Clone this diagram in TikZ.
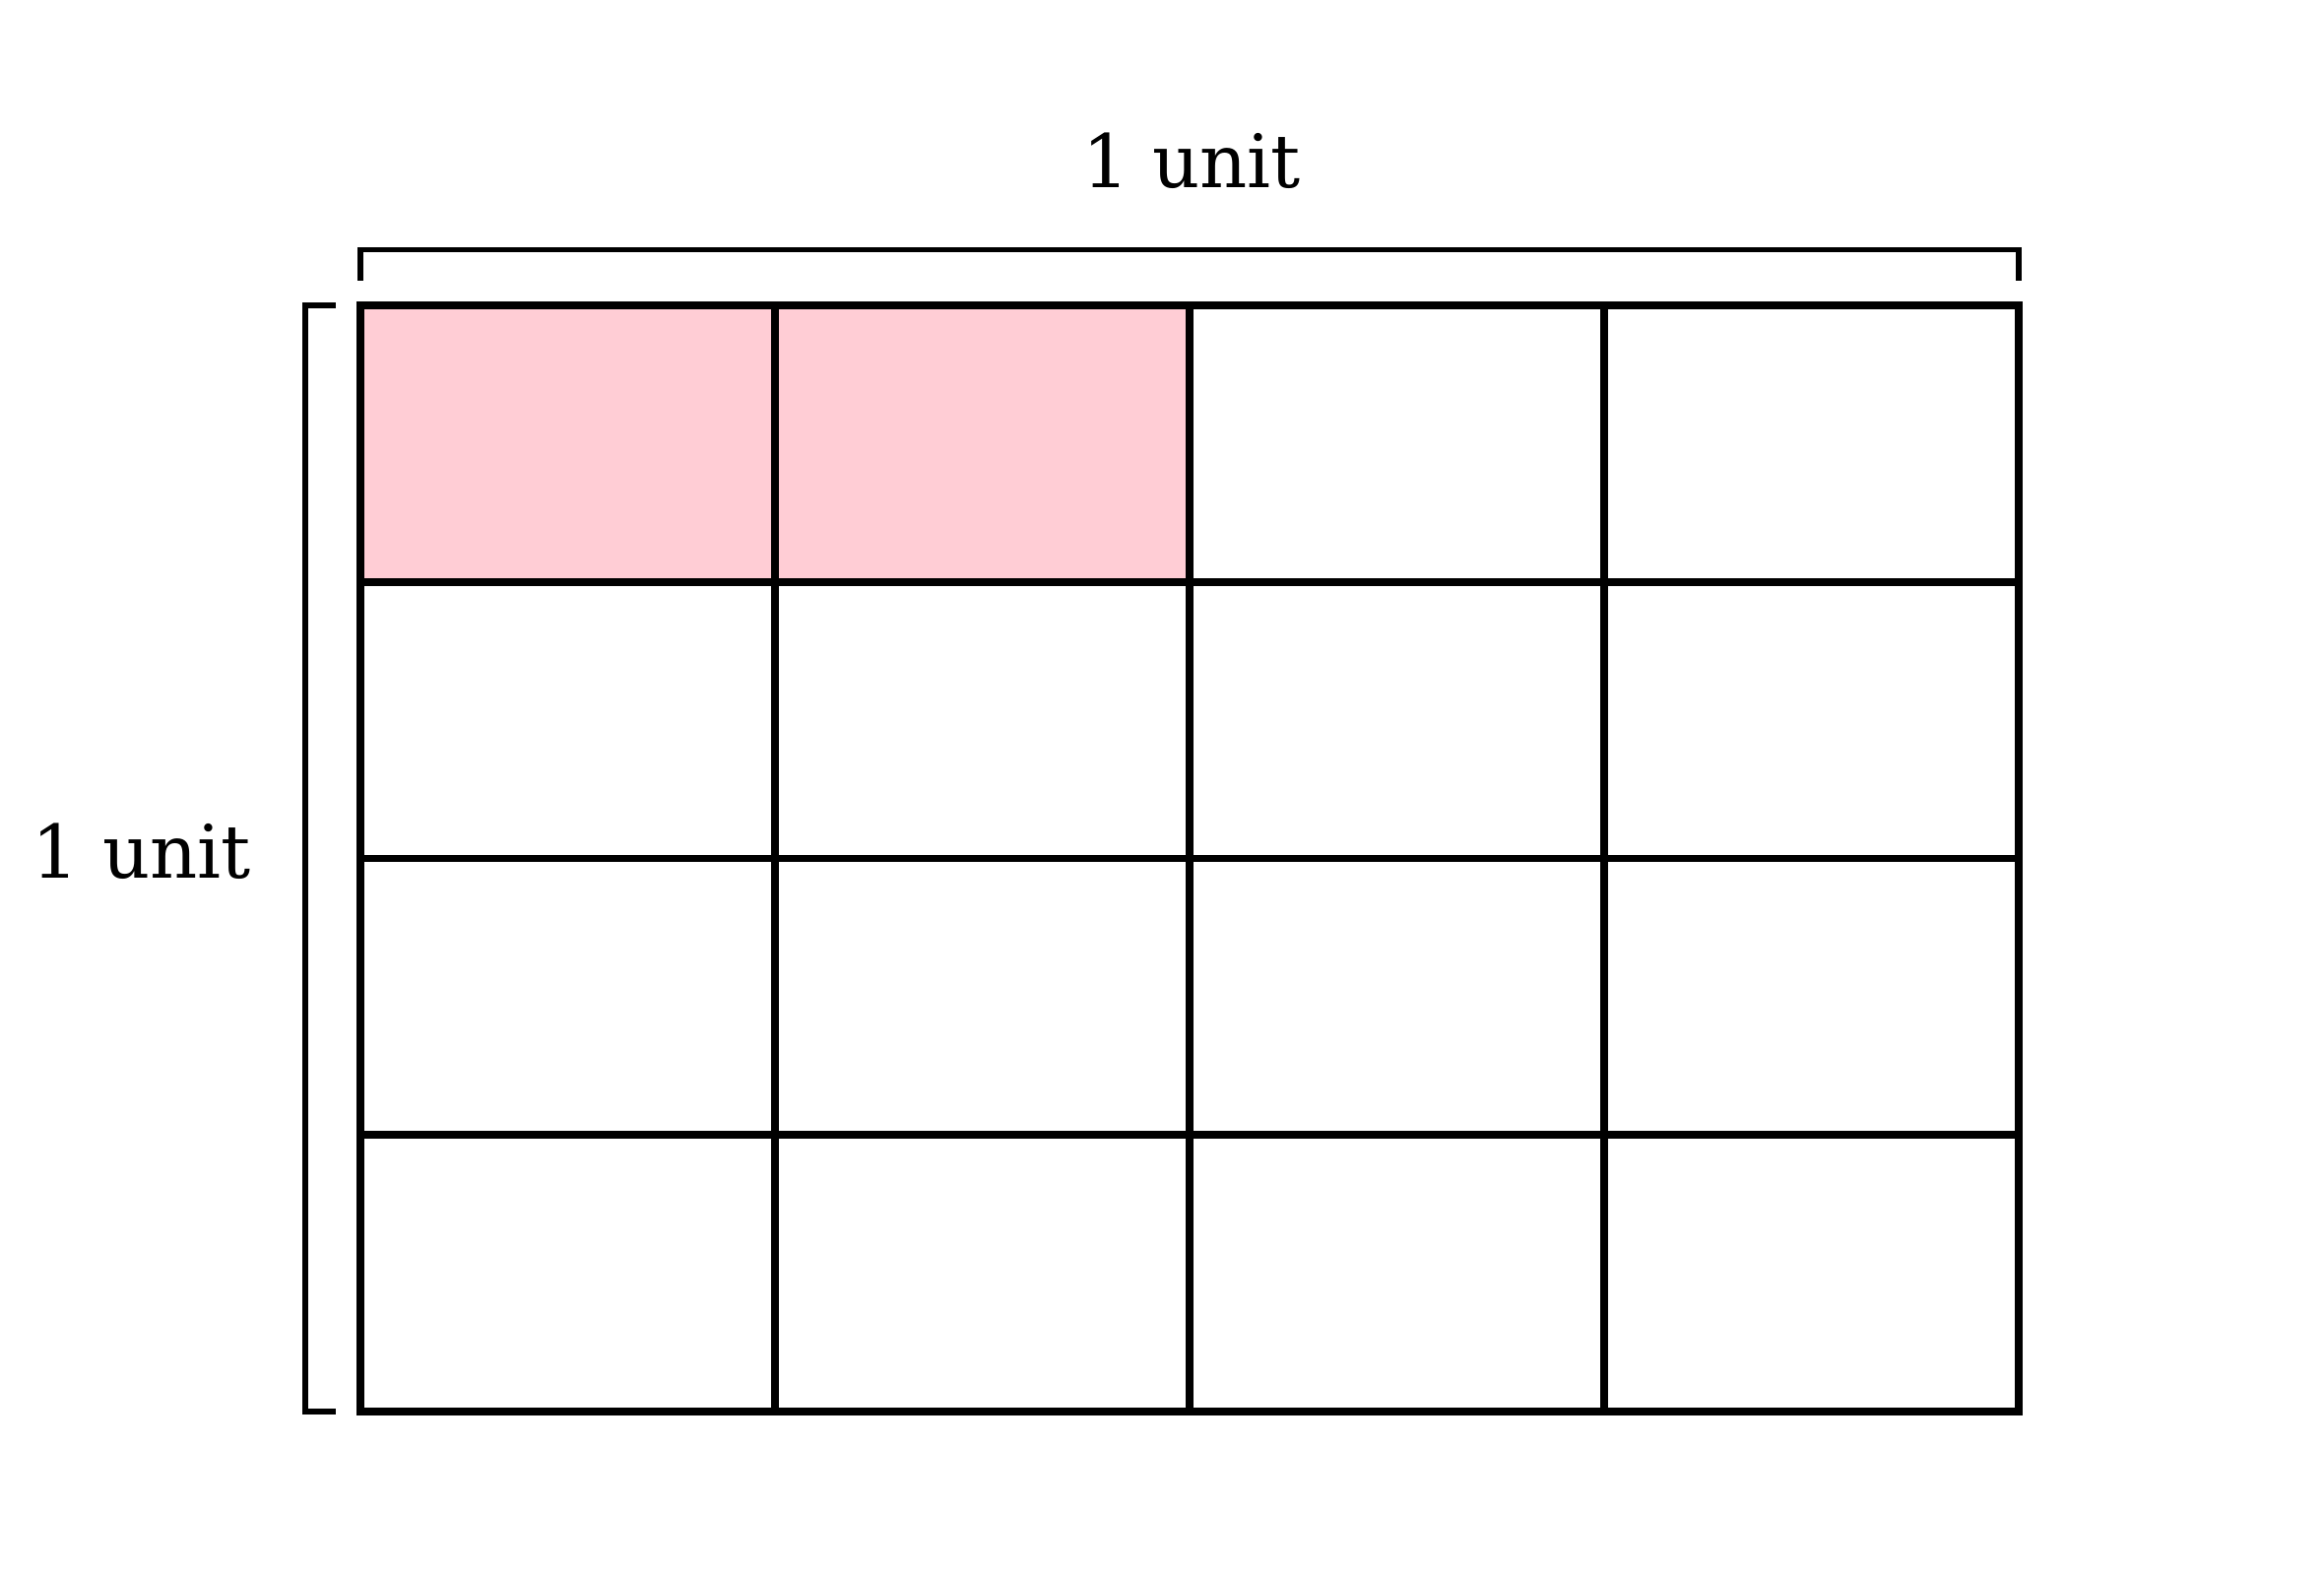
\documentclass[tikz,border=0pt]{standalone}
\usepackage{fontspec}
\setmainfont{DejaVu Serif}
\definecolor{cellpink}{RGB}{255,205,213}
\begin{document}
\begin{tikzpicture}[x=0.01cm,y=-0.01cm,
  gridline/.style={line width=2.25pt,line cap=rect},
  bracketline/.style={line width=1.65pt},
  lbl/.style={font=\fontsize{21.3}{25}\selectfont,anchor=base,inner sep=0pt}]
\useasboundingbox (0,0) rectangle (2360,1603);
% shaded cells
\fill[cellpink] (366,310) rectangle (1208,591);
% grid
\foreach \x in {366,787,1208,1629,2050} \draw[gridline] (\x,310) -- (\x,1433);
\foreach \y in {310,591,871.5,1152,1433} \draw[gridline] (366,\y) -- (2050,\y);
% brackets
\draw[bracketline] (366,285) -- (366,253.5) -- (2050,253.5) -- (2050,285);
\draw[bracketline] (341,310) -- (310,310) -- (310,1433) -- (341,1433);
% labels
\node[lbl] (toplabel) at (1210,191) {1 unit};
\node[lbl] (leftlabel) at (144,891) {1 unit};
\end{tikzpicture}
\end{document}
